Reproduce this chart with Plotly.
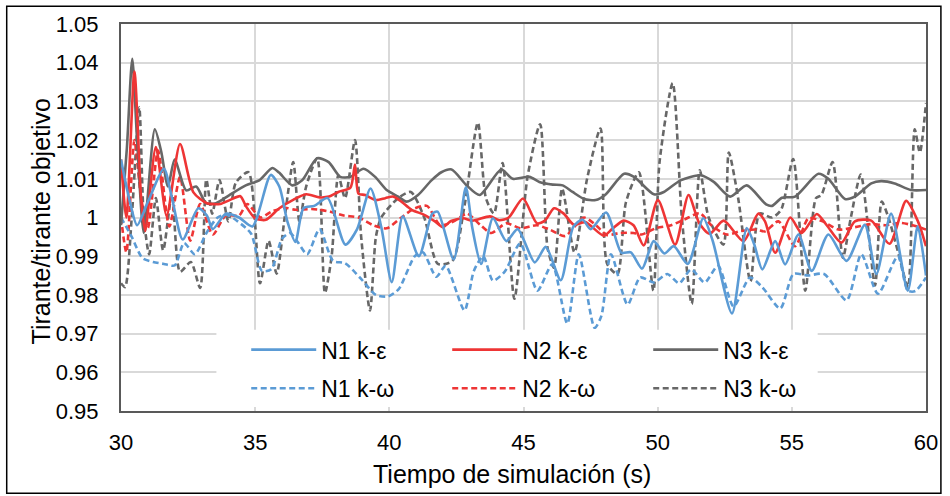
import plotly.graph_objects as go

# Time samples (s) and normalised depth ratio for each mesh / turbulence model
t_n1_ke = [30.0, 30.3, 30.6, 31.0, 31.6, 31.9, 32.3, 32.88, 33.2, 33.42, 33.91, 34.4, 34.9, 35.58, 35.9, 36.2, 36.5, 36.8, 37.2, 37.7, 38.36, 38.8, 39.3, 39.7, 40.09, 40.5, 41.1, 41.6, 41.8, 42.4, 42.85, 43.1, 43.42, 43.86, 44.36, 44.78, 45.42, 45.83, 46.39, 46.85, 47.2, 47.5, 48.08, 48.65, 49.0, 49.42, 49.85, 50.25, 50.6, 51.12, 51.7, 52.05, 52.77, 53.32, 53.6, 53.9, 54.38, 54.75, 55.25, 55.74, 56.36, 57.04, 57.72, 58.15, 58.7, 59.32, 59.69, 60.0]
v_n1_ke = [1.015, 1.005, 0.998, 1.004, 1.0126, 1.005, 0.9943, 1.0024, 1.0005, 0.997, 1.001, 1.0, 0.9977, 1.011, 1.008, 0.999, 0.9937, 1.0024, 1.003, 1.005, 0.993, 0.997, 1.0075, 0.9975, 0.9833, 1.0003, 0.99, 1.001, 1.0015, 0.9892, 1.0078, 0.997, 0.988, 0.9998, 0.9939, 0.997, 0.9884, 0.9924, 0.9838, 0.9975, 0.9995, 0.997, 1.0013, 0.9909, 0.991, 0.9868, 0.9939, 0.9907, 0.9926, 0.988, 0.9998, 0.994, 0.9752, 0.9973, 0.993, 0.9866, 0.9939, 0.9879, 0.9956, 0.9862, 0.9956, 0.9888, 0.9981, 0.9854, 1.001, 0.9811, 0.9977, 0.985]

t_n2_ke = [30.0, 30.2, 30.5, 30.75, 30.9, 31.3, 31.7, 32.2, 32.7, 33.2, 33.7, 34.05, 34.45, 34.65, 35.0, 35.4, 35.9, 36.4, 36.9, 37.4, 37.75, 38.1, 38.55, 38.72, 38.85, 39.1, 39.5, 39.85, 40.15, 40.45, 40.83, 41.3, 41.7, 42.0, 42.3, 42.75, 43.1, 43.75, 44.1, 44.45, 44.98, 45.5, 45.8, 46.14, 46.5, 46.88, 47.3, 47.99, 48.3, 48.73, 49.1, 49.48, 50.01, 50.65, 51.15, 51.55, 51.94, 52.46, 53.2, 53.75, 54.0, 54.38, 54.94, 55.37, 55.93, 56.3, 56.85, 57.35, 57.96, 58.64, 59.26, 59.7, 60.0]
v_n2_ke = [1.015, 1.0, 1.0377, 1.005, 0.9965, 1.0182, 1.0005, 1.019, 1.0065, 1.0037, 1.0035, 1.0045, 1.0055, 1.003, 0.9998, 0.9994, 1.0024, 1.0045, 1.006, 1.0052, 1.0054, 1.0066, 1.0077, 1.0137, 1.0062, 1.0058, 1.0045, 1.005, 1.0054, 1.0041, 1.002, 1.0007, 0.999, 0.9975, 0.9991, 0.9998, 0.9992, 1.0003, 0.9993, 1.0, 1.0049, 0.9985, 0.9992, 1.0024, 1.001, 0.9981, 0.9988, 0.9953, 0.997, 0.9992, 0.998, 0.9928, 1.0045, 0.993, 1.0058, 0.9985, 0.9958, 0.9992, 0.9939, 1.001, 0.999, 0.9909, 1.0, 0.996, 1.0009, 0.998, 0.9935, 0.999, 0.9992, 0.9932, 1.0043, 0.999, 0.9926]

t_n3_ke = [30.0, 30.22, 30.42, 30.6, 30.85, 31.26, 31.5, 31.75, 32.0, 32.43, 32.8, 33.17, 33.54, 34.04, 34.65, 35.15, 35.64, 35.89, 36.38, 36.75, 37.31, 37.74, 38.17, 38.54, 39.04, 39.47, 39.9, 40.33, 40.64, 41.07, 41.57, 41.94, 42.32, 42.88, 43.37, 44.17, 44.6, 45.22, 45.59, 46.09, 46.46, 46.83, 47.26, 47.69, 48.04, 48.75, 49.12, 49.86, 50.23, 50.85, 51.59, 52.09, 52.7, 53.32, 54.04, 54.26, 54.63, 55.12, 55.99, 56.36, 56.98, 57.35, 57.96, 58.33, 58.83, 59.44, 60.0]
v_n3_ke = [0.998, 1.018, 1.041, 1.02, 0.996, 1.0228, 1.017, 1.008, 1.015, 1.007, 1.008, 1.0037, 1.0037, 1.0058, 1.0083, 1.0096, 1.0128, 1.0116, 1.0083, 1.0096, 1.0153, 1.0143, 1.0105, 1.0105, 1.0126, 1.0105, 1.0071, 1.0054, 1.0041, 1.0058, 1.0096, 1.0117, 1.0124, 1.0083, 1.0058, 1.0124, 1.01, 1.0105, 1.0092, 1.0085, 1.0083, 1.0066, 1.0048, 1.0045, 1.0058, 1.0113, 1.0105, 1.006, 1.0066, 1.0096, 1.0109, 1.0092, 1.0054, 1.0083, 1.0034, 1.003, 1.0051, 1.0054, 1.0113, 1.01, 1.0048, 1.0054, 1.0088, 1.0094, 1.0088, 1.0071, 1.0071]

t_n1_kw = [30.0, 30.4, 30.8, 31.2, 31.6, 32.0, 32.35, 32.75, 33.2, 33.6, 33.95, 34.35, 34.85, 35.25, 35.6, 36.0, 36.3, 36.6, 36.94, 37.4, 37.9, 38.35, 38.9, 39.5, 39.95, 40.35, 40.95, 41.25, 41.75, 42.1, 42.8, 43.15, 43.5, 43.86, 44.3, 44.88, 45.52, 46.07, 46.63, 47.06, 47.65, 47.9, 48.26, 48.88, 49.35, 49.86, 50.36, 50.8, 51.25, 51.75, 52.25, 52.83, 53.44, 53.9, 54.57, 55.06, 55.6, 56.2, 57.04, 57.59, 58.21, 58.95, 59.32, 59.6, 60.0]
v_n1_kw = [1.0, 0.995, 0.9895, 0.9885, 0.988, 0.9876, 0.9934, 0.9905, 0.9962, 1.0, 1.0007, 0.999, 0.9958, 0.9862, 0.9866, 0.9945, 0.996, 0.9935, 0.9905, 0.997, 0.9888, 0.9882, 0.9845, 0.98, 0.9796, 0.9815, 0.99, 0.991, 0.9847, 0.9875, 0.976, 0.9862, 0.99, 0.9837, 0.986, 0.9933, 0.9811, 0.9879, 0.9726, 0.9905, 0.9715, 0.9745, 0.9905, 0.9775, 0.9845, 0.9832, 0.9854, 0.983, 0.9866, 0.9832, 0.9875, 0.977, 0.9845, 0.982, 0.9765, 0.9854, 0.985, 0.9854, 0.9786, 0.9905, 0.9803, 0.99, 0.9811, 0.981, 0.9845]

t_n2_kw = [30.0, 30.2, 30.5, 30.75, 31.0, 31.38, 31.8, 32.2, 32.58, 32.95, 33.42, 33.9, 34.4, 34.7, 35.2, 35.6, 36.1, 36.5, 37.1, 37.4, 37.8, 38.3, 38.85, 39.4, 39.9, 40.45, 40.9, 41.4, 41.9, 42.4, 42.9, 43.4, 43.8, 44.35, 44.9, 45.5, 46.0, 46.55, 47.25, 47.7, 48.1, 48.6, 49.1, 49.4, 49.96, 50.5, 51.0, 51.57, 52.0, 52.58, 53.1, 53.69, 54.0, 54.5, 55.12, 55.62, 56.15, 56.73, 57.35, 57.96, 58.5, 59.07, 59.5, 60.0]
v_n2_kw = [1.0, 0.991, 1.02, 1.005, 0.9973, 1.0173, 0.9977, 1.0105, 0.994, 1.0035, 0.9956, 1.0005, 1.0005, 1.0035, 1.0, 1.0015, 1.0025, 1.002, 1.0022, 1.002, 1.0015, 1.0005, 1.0, 0.998, 0.9972, 1.0, 1.0022, 1.003, 0.998, 0.999, 1.001, 0.998, 0.996, 0.9985, 0.9972, 0.998, 0.9968, 0.9952, 1.0, 0.998, 0.9955, 0.996, 0.996, 0.9956, 0.9973, 0.998, 0.9995, 1.0011, 0.998, 0.9956, 0.9965, 0.9969, 0.9964, 0.999, 0.9926, 0.9998, 0.999, 0.9969, 0.9975, 0.9983, 0.998, 0.9986, 0.998, 0.9969]

t_n3_kw = [30.0, 30.15, 30.4, 30.68, 30.85, 31.05, 31.3, 31.57, 31.9, 32.2, 32.6, 32.95, 33.18, 33.4, 33.67, 34.0, 34.28, 34.75, 35.18, 35.5, 35.8, 36.1, 36.42, 36.65, 36.9, 37.31, 37.6, 37.85, 38.1, 38.35, 38.72, 38.95, 39.28, 39.5, 39.7, 40.33, 40.8, 41.3, 41.81, 42.35, 42.8, 43.3, 43.6, 43.9, 44.22, 44.66, 45.15, 45.62, 45.9, 46.14, 46.44, 46.9, 47.37, 47.87, 48.12, 48.5, 48.82, 49.3, 49.84, 50.07, 50.56, 50.9, 51.27, 51.57, 51.9, 52.45, 52.65, 53.0, 53.46, 53.8, 54.26, 54.6, 55.05, 55.5, 55.9, 56.1, 56.52, 56.9, 57.2, 57.57, 58.1, 58.35, 58.6, 59.0, 59.33, 59.58, 59.77, 60.0]
v_n3_kw = [0.983, 0.982, 1.0, 1.0285, 1.0, 0.9905, 1.005, 0.9915, 1.006, 0.986, 0.9885, 0.9818, 1.0098, 1.001, 1.0097, 0.999, 1.009, 1.0117, 0.983, 0.994, 0.9855, 1.0, 1.0143, 0.999, 1.008, 1.0153, 0.9805, 0.99, 1.0109, 1.005, 1.02, 0.995, 0.976, 0.995, 1.0, 1.005, 1.0066, 1.0, 0.988, 0.9888, 1.003, 1.0245, 1.005, 1.001, 1.0141, 0.979, 1.0105, 1.0241, 0.992, 0.987, 1.0075, 0.991, 1.01, 1.023, 0.988, 0.9854, 1.004, 1.0117, 0.9811, 1.0143, 1.0347, 1.0, 0.9777, 1.0122, 1.0, 0.993, 1.0168, 1.005, 0.9835, 1.001, 1.0, 1.002, 1.0151, 0.9811, 1.005, 1.0058, 1.0143, 0.9896, 1.0, 1.0111, 0.9825, 1.0041, 1.0, 0.99, 0.982, 1.0228, 1.0168, 1.0296]

x_ticks = [30, 35, 40, 45, 50, 55, 60]
y_ticks = [0.95, 0.96, 0.97, 0.98, 0.99, 1.00, 1.01, 1.02, 1.03, 1.04, 1.05]
y_tick_text = ["0.95", "0.96", "0.97", "0.98", "0.99", "1", "1.01", "1.02", "1.03", "1.04", "1.05"]

BLUE = "#5B9BD5"
RED = "#EE3535"
GREY = "#676767"
FONT = "Liberation Sans, Arial, sans-serif"
DASH = "6px,3.5px"

series = [
    ("N1 k-ε", t_n1_ke, v_n1_ke, BLUE, "solid", "legend"),
    ("N2 k-ε", t_n2_ke, v_n2_ke, RED, "solid", "legend"),
    ("N3 k-ε", t_n3_ke, v_n3_ke, GREY, "solid", "legend"),
    ("N1 k-ω", t_n1_kw, v_n1_kw, BLUE, DASH, "legend2"),
    ("N2 k-ω", t_n2_kw, v_n2_kw, RED, DASH, "legend2"),
    ("N3 k-ω", t_n3_kw, v_n3_kw, GREY, DASH, "legend2"),
]

# draw order: dashed k-ω first, solid k-ε on top
draw_order = [5, 4, 3, 2, 1, 0]
fig = go.Figure()
for i in draw_order:
    name, tx, vy, col, dash, lg = series[i]
    fig.add_trace(go.Scatter(
        x=tx, y=vy, name=name, mode="lines",
        line=dict(color=col, width=2.6, dash=dash, shape="spline", smoothing=0.7),
        legend=lg, legendrank=i, hoverinfo="skip",
    ))

W, H = 950, 496
L, R, T, B = 121, 19, 20, 85
pw, ph = W - L - R, H - T - B


def px(x):
    return (x - L) / pw


def py(y):
    return (H - B - y) / ph


legend_common = dict(
    orientation="h", xanchor="left", yanchor="middle",
    bgcolor="rgba(0,0,0,0)", borderwidth=0,
    font=dict(family=FONT, size=23, color="#000000"),
    itemwidth=65, entrywidth=121, entrywidthmode="pixels",
    traceorder="normal", itemclick=False, itemdoubleclick=False,
)

fig.update_layout(
    width=W, height=H,
    margin=dict(l=L, r=R, t=T, b=B),
    paper_bgcolor="#FFFFFF", plot_bgcolor="#FFFFFF",
    font=dict(family=FONT, size=22, color="#000000"),
    showlegend=True,
    legend=dict(x=px(247), y=py(349), **legend_common),
    legend2=dict(x=px(247), y=py(388), **legend_common),
    xaxis=dict(
        range=[30, 60], tickvals=x_ticks, ticktext=[str(v) for v in x_ticks],
        showgrid=True, gridcolor="#D9D9D9", gridwidth=2,
        showline=True, linecolor="#595959", linewidth=2, mirror=True,
        ticks="", zeroline=False, ticklabelstandoff=11,
        tickfont=dict(family=FONT, size=22, color="#000000"),
    ),
    yaxis=dict(
        range=[0.95, 1.05], tickvals=y_ticks, ticktext=y_tick_text,
        showgrid=True, gridcolor="#D9D9D9", gridwidth=2,
        showline=True, linecolor="#595959", linewidth=2, mirror=True,
        ticks="", zeroline=False, ticklabelstandoff=16,
        tickfont=dict(family=FONT, size=22, color="#000000"),
    ),
    shapes=[
        # white panel behind the legend rows
        dict(type="rect", xref="paper", yref="paper", layer="above",
             x0=px(217), x1=px(822), y0=py(407), y1=py(329),
             fillcolor="#FFFFFF", line=dict(width=0)),
        # chart border
        dict(type="rect", xref="paper", yref="paper", layer="above",
             x0=px(6), x1=px(946), y0=py(494), y1=py(2),
             fillcolor="rgba(0,0,0,0)", line=dict(color="#000000", width=1.5)),
    ],
    annotations=[
        dict(text="Tiempo de simulación (s)", xref="paper", yref="paper",
             x=px(514), y=py(475), xanchor="center", yanchor="middle",
             showarrow=False, font=dict(family=FONT, size=25, color="#000000")),
        dict(text="Tirante/tirante objetivo", xref="paper", yref="paper",
             x=px(40), y=py(220), xanchor="center", yanchor="middle", textangle=-90,
             showarrow=False, font=dict(family=FONT, size=25, color="#000000")),
    ],
)

fig.write_html("out.html")
